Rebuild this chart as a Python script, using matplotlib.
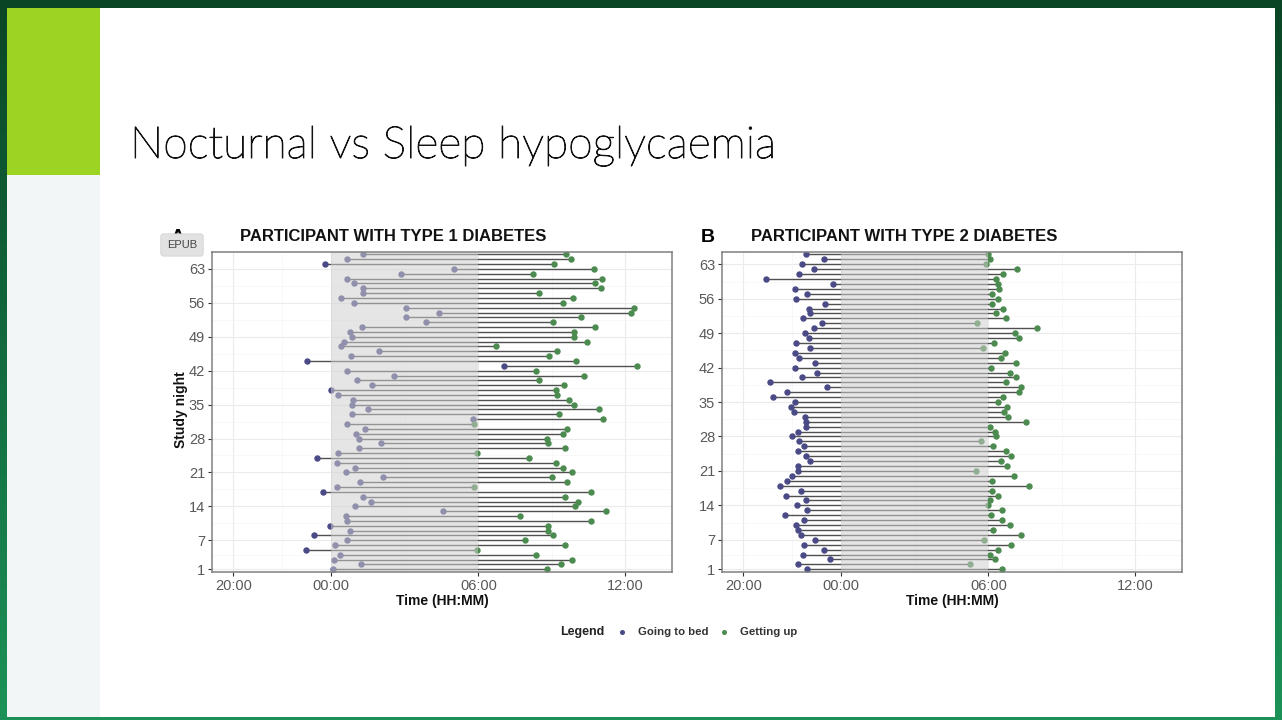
import matplotlib
matplotlib.use('Agg')
import matplotlib.pyplot as plt
import matplotlib.patheffects as pe
import numpy as np
from matplotlib.patches import Rectangle

W, H = 1282, 720

# nights and times (hours relative to midnight, negative = before 00:00)
nights_t1 = list(range(1, 67))
bed_t1 = [0.05, 1.19, 0.10, 0.35, -1.05, 0.16, 0.63, -0.71, 0.75, -0.04,
          0.63, 0.59, 4.57, 0.97, 1.60, 1.31, -0.35, 0.25, 1.15, 2.11,
          0.60, 0.97, 0.25, -0.60, 0.29, 1.11, 2.03, 1.11, 1.01, 1.39,
          0.63, 5.80, 0.86, 1.49, 0.83, 0.89, 0.27, -0.01, 1.66, 1.06,
          2.54, 0.63, 7.04, -0.98, 0.79, 1.94, 0.41, 0.52, 0.86, 0.75,
          1.24, 3.85, 3.06, 4.39, 3.06, 0.93, 0.38, 1.31, 1.31, 0.93,
          0.63, 2.85, 5.02, -0.26, 0.63, 1.28]
up_t1 = [8.80, 9.39, 9.82, 8.36, 5.96, 9.54, 7.90, 9.05, 8.84, 8.84,
         10.61, 7.68, 11.20, 9.96, 10.05, 9.54, 10.59, 5.83, 9.63, 9.02,
         9.82, 9.44, 9.15, 8.08, 5.93, 9.54, 8.84, 8.79, 9.47, 9.63,
         5.83, 11.08, 9.29, 10.93, 9.89, 9.71, 9.21, 9.17, 9.48, 8.46,
         10.30, 8.36, 12.47, 9.99, 8.87, 9.21, 6.70, 10.44, 9.92, 9.92,
         10.75, 9.03, 10.20, 12.21, 12.35, 9.44, 9.86, 8.46, 11.01, 10.75,
         11.04, 8.23, 10.71, 9.10, 9.78, 9.58]

nights_t2 = list(range(1, 66))
bed_t2 = [-1.40, -1.75, -0.46, -1.57, -0.71, -1.53, -1.06, -1.64, -1.78, -1.85,
          -1.51, -2.29, -1.40, -1.82, -1.44, -2.25, -1.63, -2.50, -2.20, -2.01,
          -1.76, -1.76, -1.29, -1.44, -1.78, -1.51, -1.71, -2.02, -1.78, -1.44,
          -1.45, -1.49, -1.94, -2.05, -1.90, -2.80, -2.20, -0.60, -2.92, -1.60,
          -0.98, -1.90, -1.09, -1.71, -1.90, -1.26, -1.87, -1.33, -1.49, -1.13,
          -0.77, -1.55, -1.26, -1.33, -0.68, -1.85, -1.41, -1.91, -0.35, -3.08,
          -1.71, -1.13, -1.60, -0.71, -1.44]
up_t2 = [6.54, 5.24, 6.27, 6.07, 6.41, 6.91, 5.81, 7.34, 6.19, 6.90,
         6.54, 6.12, 6.54, 5.97, 6.07, 6.38, 6.16, 7.67, 6.16, 7.05,
         5.51, 6.75, 6.50, 6.92, 6.72, 6.19, 5.71, 6.30, 6.27, 6.07,
         7.52, 6.79, 6.65, 6.75, 6.41, 6.61, 7.23, 7.33, 6.72, 7.14,
         6.87, 6.09, 7.14, 6.52, 6.68, 5.78, 6.24, 7.23, 7.10, 8.00,
         5.52, 6.72, 6.30, 6.61, 6.14, 6.38, 6.16, 6.42, 6.38, 6.31,
         6.61, 7.15, 5.89, 6.07, 5.97]

time_ticks = [-4, 0, 6, 12]
time_labels = ['20:00', '00:00', '06:00', '12:00']
night_ticks = [1, 7, 14, 21, 28, 35, 42, 49, 56, 63]

BED = '#4a4a86'
UP = '#4c8b50'
FONT = ['Liberation Sans', 'DejaVu Sans']

plt.rcParams['font.family'] = FONT

fig = plt.figure(figsize=(W / 100, H / 100), dpi=100)

# slide background
bg = fig.add_axes([0, 0, 1, 1], zorder=-10)
bg.set_xlim(0, W)
bg.set_ylim(H, 0)
bg.axis('off')
grad = np.linspace(0, 1, 256).reshape(-1, 1)
c0 = np.array([0x0a, 0x45, 0x26]) / 255
c1 = np.array([0x1c, 0x92, 0x58]) / 255
img = c0 + (c1 - c0) * grad[..., None]
bg.imshow(img, extent=[0, W, H, 0], aspect='auto')
bg.add_patch(Rectangle((7, 8), 1268, 709, fc='white', ec='none'))
bg.add_patch(Rectangle((7, 8), 93, 167, fc='#9dd323', ec='none'))
bg.add_patch(Rectangle((7, 175), 93, 542, fc='#f3f6f6', ec='none'))


def px_axes(left, top, right, bottom):
    return fig.add_axes([left / W, 1 - bottom / H, (right - left) / W, (bottom - top) / H])


def lollipop(ax, nights, bed, up):
    ax.set_xlim(-4.87, 13.9)
    ax.set_ylim(0.45, len(nights) + 0.5)
    ax.set_xticks(time_ticks)
    ax.set_xticklabels(time_labels)
    ax.set_xticks([-2, 3, 9], minor=True)
    ax.set_yticks(night_ticks)
    ax.set_yticks([4, 10.5, 17.5, 24.5, 31.5, 38.5, 45.5, 52.5, 59.5], minor=True)
    ax.grid(which='major', color='#ebebeb', lw=0.8, zorder=0)
    ax.grid(which='minor', color='#f5f5f5', lw=0.5, zorder=0)
    ax.set_axisbelow(True)
    ax.hlines(nights, bed, up, color='#505050', lw=1.0, zorder=2)
    ax.plot(bed, nights, 'o', color=BED, ms=3.6, zorder=3)
    ax.plot(up, nights, 'o', color=UP, ms=3.6, zorder=3)
    ax.axvspan(0, 6, color='#cfcfcf', alpha=0.53, lw=0, zorder=4)
    ax.tick_params(which='major', length=3, width=0.8, color='#333333',
                   labelcolor='#595959', labelsize=10.5, pad=2)
    ax.tick_params(which='minor', length=0)
    for s in ax.spines.values():
        s.set_color('#808080')
        s.set_linewidth(1.1)
        s.set_zorder(5)


axA = px_axes(212, 252, 672, 572)
lollipop(axA, nights_t1, bed_t1, up_t1)
axB = px_axes(722, 252, 1182, 572)
lollipop(axB, nights_t2, bed_t2, up_t2)

# panel texts
fig.text(240 / W, 1 - 237 / H, 'PARTICIPANT WITH TYPE 1 DIABETES', fontsize=12,
         weight='bold', va='center', color='#111111')
fig.text(751 / W, 1 - 237 / H, 'PARTICIPANT WITH TYPE 2 DIABETES', fontsize=12,
         weight='bold', va='center', color='#111111')
fig.text(178 / W, 1 - 238 / H, 'A', fontsize=14, weight='bold', ha='center', va='center')
fig.text(708 / W, 1 - 238 / H, 'B', fontsize=14, weight='bold', ha='center', va='center')
fig.text(181 / W, 1 - 410 / H, 'Study night', rotation=90, fontsize=10, weight='bold',
         ha='center', va='center', color='#111111')
fig.text(442 / W, 1 - 601 / H, 'Time (HH:MM)', fontsize=10, weight='bold',
         ha='center', va='center', color='#111111')
fig.text(952 / W, 1 - 601 / H, 'Time (HH:MM)', fontsize=10, weight='bold',
         ha='center', va='center', color='#111111')

# legend row
fig.text(560 / W, 1 - 632 / H, 'Legend', fontsize=9, weight='bold', va='center', color='#222222')
bg.plot([622], [632], 'o', color=BED, ms=2.6)
fig.text(638 / W, 1 - 632 / H, 'Going to bed', fontsize=8.2, weight='bold', va='center', color='#333333')
bg.plot([724], [632], 'o', color=UP, ms=2.6)
fig.text(740 / W, 1 - 632 / H, 'Getting up', fontsize=8.2, weight='bold', va='center', color='#333333')

# EPUB overlay button (sits over the panel letter A, as on the slide)
fig.text(182 / W, 1 - 245 / H, 'EPUB', fontsize=8, color='#444444', ha='center', va='center',
         zorder=10, bbox=dict(boxstyle='round,pad=0.55,rounding_size=0.25', fc='#e2e2e2',
                              ec='#d2d2d2', lw=0.6))

# slide title, fitted to its width on the slide
title = fig.text(130 / W, 1 - 158 / H, 'Nocturnal vs Sleep hypoglycaemia', fontsize=30,
                 family=['Lato', 'DejaVu Sans'], weight='light', va='baseline', color='#111111',
                 path_effects=[pe.withStroke(linewidth=0.7, foreground='#111111')])
fig.canvas.draw()
bb = title.get_window_extent()
title.set_fontsize(30 * 646 / bb.width)

fig.savefig('out.png', dpi=100)
